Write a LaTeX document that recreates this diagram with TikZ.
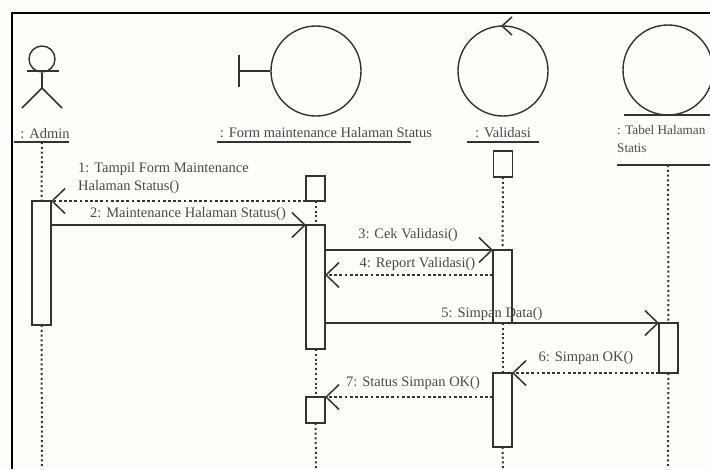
\documentclass[tikz,border=0pt]{standalone}
\usepackage{fontspec}
\setmainfont{Liberation Serif}
\usetikzlibrary{arrows.meta,positioning}
\definecolor{umlink}{HTML}{333333}
\definecolor{umlback}{HTML}{FDFDFA}
\definecolor{umltext}{HTML}{4A4A4A}
\tikzset{
  objcircle/.style={draw=umlink,circle,line width=1.4pt,minimum size=90pt,inner sep=0pt},
  headlabel/.style={font=\fontsize{14.5}{18}\selectfont,text=umltext,text height=8pt,text depth=2pt,inner sep=0pt},
  headline/.style={draw=umlink,line width=1.5pt},
  actbox/.style={draw=umlink,fill=umlback,line width=1.5pt,minimum width=19pt,inner sep=0pt,outer sep=0pt},
  lifeline/.style={draw=umlink,line width=2pt,dash pattern=on 2pt off 2.8pt},
  callmsg/.style={draw=umlink,line width=1.5pt,-{Straight Barb[length=13pt,width=25pt,line width=1.5pt]}},
  backmsg/.style={callmsg,dash pattern=on 2.8pt off 2.4pt},
  msglabel/.style={font=\fontsize{14.5}{18.5}\selectfont,text=umltext,inner sep=0pt},
}
\begin{document}
\begin{tikzpicture}[x=1pt,y=-1pt]
  \clip (0,0) rectangle (710,469);
  \fill[umlback] (0,0) rectangle (710,469);
  \draw[black,line width=1.8pt] (12,469) |- (710,13);

  % heads
  \node[draw=umlink,circle,line width=1.4pt,minimum size=26pt,inner sep=0pt] (adminhead) at (42,59) {};
  \coordinate (adminarm) at (27,71);
  \coordinate (adminhand) at (59,71);
  \coordinate (adminhip) at (42,88);
  \coordinate (adminfootl) at (22,108);
  \coordinate (adminfootr) at (62,108);
  \draw[headline] (adminarm) -- (adminhand);
  \draw[headline] (adminhead) -- (adminhip);
  \draw[headline] (adminfootl) -- (adminhip) -- (adminfootr);
  \node[headlabel] (adminlabel) at (45,135) {: Admin};

  \node[objcircle] (formcircle) at (316,71) {};
  \coordinate (formbar) at (239,71);
  \draw[headline] (formbar) -- (formcircle);
  \draw[headline] (239,55) -- (239,87);
  \node[headlabel,below=13pt of formcircle,xshift=10pt] (formlabel) {: Form maintenance Halaman Status};

  \node[objcircle] (valcircle) at (503,71) {};
  \draw[headline] (512,17) -- (502,26) -- (512,35);
  \node[headlabel,below=13pt of valcircle] (vallabel) {: Validasi};

  \node[objcircle] (tablecircle) at (668,70) {};
  \draw[headline] (624,115) -- (710,115);
  \node[msglabel,anchor=north west,align=left,font=\fontsize{13.2}{18.5}\selectfont] (tablelabel) at (617,125) {: Tabel Halaman\\Statis};

  % underlines
  \coordinate (adminunder) at (42,142);
  \coordinate (tableunder) at (668,165);
  \draw[headline] (14,142) -- (69,142);
  \draw[headline] (217,142) -- (411,142);
  \draw[headline] (467,142) -- (539,142);
  \draw[headline] (617,165) -- (710,165);

  % activations
  \node[actbox,minimum height=124pt] (adminact) at (41.5,263) {};
  \node[actbox,minimum height=25pt] (formstub) at (315.5,188.5) {};
  \node[actbox,minimum height=124pt] (formact) at (315.5,287) {};
  \node[actbox,minimum height=26pt] (formret) at (315.5,410) {};
  \node[actbox,minimum height=26pt] (valstub) at (503,164) {};
  \node[actbox,minimum height=73pt] (valact) at (502.5,286.5) {};
  \node[actbox,minimum height=74pt] (valret) at (502.5,410) {};
  \node[actbox,minimum height=50pt] (tableact) at (668.5,348) {};

  % lifelines
  \coordinate (adminend) at (42,469);
  \coordinate (formend) at (316,469);
  \coordinate (valend) at (503,469);
  \coordinate (tableend) at (668,469);
  \foreach \a/\b in {adminunder/adminact.north,adminact.south/adminend,
    formstub.south/formact.north,formact.south/formret.north,formret.south/formend,
    valstub.south/valact.north,valact.south/valret.north,valret.south/valend,
    tableunder/tableact.north,tableact.south/tableend}
    \path[lifeline] (\a) -- (\b);

  % messages
  \draw[backmsg] (formstub.south west) -- (adminact.north east);
  \draw[callmsg] (adminact.east |- formact.north) -- (formact.north west);
  \draw[callmsg] (formact.east |- valact.north) -- (valact.north west);
  \draw[backmsg] ([yshift=-25pt]valact.north west) -- ([yshift=-50pt]formact.north east);
  \draw[callmsg] (formact.east |- tableact.north) -- (tableact.north west);
  \draw[backmsg] (tableact.south west) -- (valret.north east);
  \draw[backmsg] (valret.west |- formret.north) -- (formret.north east);

  % message labels
  \node[msglabel,align=left,anchor=north west] (firstlabel) at (78,162) {1: Tampil Form Maintenance\\Halaman Status()};
  \node[msglabel] (secondlabel) at (188,214) {2: Maintenance Halaman Status()};
  \node[msglabel] (thirdlabel) at (408,235) {3: Cek Validasi()};
  \node[msglabel] (fourthlabel) at (417.5,264) {4: Report Validasi()};
  \node[msglabel] (fifthlabel) at (492,314) {5: Simpan Data()};
  \node[msglabel] (sixthlabel) at (586,358) {6: Simpan OK()};
  \node[msglabel] (seventhlabel) at (413,383) {7: Status Simpan OK()};
\end{tikzpicture}
\end{document}
